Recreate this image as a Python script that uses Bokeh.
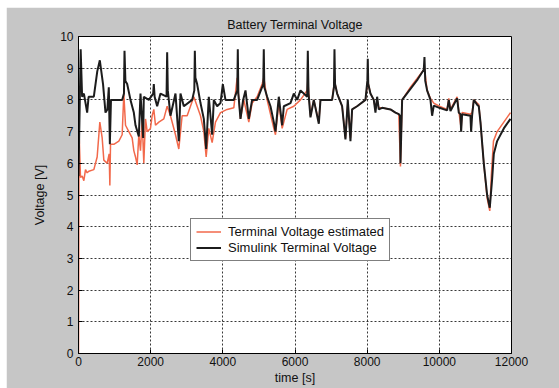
from bokeh.plotting import figure
from bokeh.models import ColumnDataSource, Legend, LegendItem, FixedTicker
from bokeh.embed import file_html
from bokeh.resources import INLINE

# Simulink terminal voltage (black)
sim_t = [0, 60, 100, 150, 240, 280, 425, 520, 591, 680, 748, 800, 840, 869, 900, 979,
         1210, 1260, 1275, 1300, 1349, 1441, 1533, 1580, 1672, 1718, 1792, 1810, 1949,
         2070, 2087, 2110, 2180, 2272, 2440, 2457, 2475, 2549, 2688, 2780, 2826, 2919,
         3150, 3210, 3224, 3240, 3288, 3381, 3473, 3538, 3611, 3704, 3750, 3842, 3935,
         4000, 4073, 4304, 4400, 4415, 4430, 4489, 4563, 4628, 4720, 4812, 4951, 5120,
         5135, 5150, 5228, 5320, 5413, 5459, 5551, 5644, 5690, 5875, 5967, 6060, 6152,
         6337, 6355, 6375, 6429, 6521, 6660, 6706, 7029, 7080, 7094, 7110, 7168, 7306,
         7398, 7463, 7537, 7583, 7722, 7953, 8005, 8017, 8030, 8091, 8183, 8230, 8276,
         8322, 8415, 8646, 8784, 8876, 8910, 8923, 8969, 9200, 9400, 9569, 9588, 9610,
         9661, 9754, 9800, 9846, 10000, 10216, 10262, 10308, 10493, 10539, 10585, 10604,
         10631, 10862, 10881, 10908, 10955, 11047, 11093, 11140, 11232, 11325, 11398,
         11463, 11510, 11602, 11787, 11972]
sim_v = [5.6, 9.6, 8.1, 8.2, 7.6, 8.1, 8.1, 8.9, 9.25, 8.5, 7.6, 7.7, 8.4, 6.6, 8.0, 8.0,
         8.0, 8.2, 9.55, 8.6, 8.5, 8.0, 7.6, 7.2, 6.85, 8.2, 6.8, 8.1, 8.0,
         8.2, 8.5, 8.1, 7.8, 8.2, 8.1, 9.5, 8.3, 7.5, 8.2, 6.7, 8.2, 7.8,
         8.0, 8.3, 9.55, 8.7, 8.5, 7.9, 7.4, 6.45, 8.1, 6.9, 8.0, 7.8, 7.9,
         8.5, 8.0, 8.0, 8.3, 9.6, 8.2, 7.4, 8.0, 8.3, 7.4, 8.0, 8.0, 8.5,
         9.6, 8.4, 8.1, 7.8, 7.3, 7.0, 8.1, 7.2, 7.8, 7.9, 8.2, 8.0, 8.3,
         8.1, 9.55, 8.2, 7.45, 8.0, 7.25, 8.0, 8.0, 8.4, 9.6, 8.5, 8.2, 7.8,
         6.75, 8.0, 6.7, 7.7, 7.8, 8.0, 8.6, 9.3, 8.5, 8.2, 8.0, 7.6, 8.1,
         7.7, 7.75, 7.7, 7.6, 7.55, 7.5, 6.0, 8.0, 8.35, 8.65, 8.95, 9.35, 8.6,
         8.3, 8.0, 7.5, 7.82, 7.75, 7.67, 8.0, 7.65, 8.05, 7.6, 7.55, 7.0,
         7.55, 7.5, 7.0, 7.5, 8.0, 7.85, 7.8, 7.3, 6.0, 5.0, 4.6,
         5.5, 6.3, 6.7, 7.1, 7.4]

# Terminal voltage estimated (orange-red)
est_t = [0, 15, 55, 102, 148, 194, 240, 286, 425, 517, 591, 656, 702, 794, 850, 869, 887,
         979, 1118, 1210, 1256, 1303, 1395, 1487, 1533, 1580, 1626, 1672, 1718, 1764, 1810,
         1857, 1903, 1995, 2041, 2087, 2133, 2226, 2364, 2457, 2549, 2688, 2780, 2872,
         3011, 3196, 3288, 3381, 3473, 3538, 3611, 3704, 3796, 3935, 4119, 4304, 4396,
         4489, 4581, 4720, 4812, 4951, 5089, 5135, 5228, 5413, 5459, 5551, 5644, 5782,
         5967, 6152, 6337, 6355, 6429, 6521, 6660, 6706, 7029, 7094, 7168, 7306, 7398,
         7463, 7537, 7583, 7722, 7953, 8017, 8091, 8183, 8230, 8276, 8322, 8415, 8646,
         8784, 8876, 8923, 8969, 9200, 9400, 9569, 9588, 9661, 9754, 9846, 10000, 10216,
         10262, 10308, 10493, 10539, 10604, 10631, 10862, 10908, 10955, 11047, 11093,
         11140, 11232, 11325, 11398, 11440, 11500, 11602, 11787, 11972]
est_v = [0.0, 7.0, 5.55, 5.6, 5.45, 5.8, 5.7, 5.75, 5.8, 6.2, 7.3, 6.8, 6.1, 6.0, 6.3, 5.3, 6.6,
         6.6, 6.7, 6.9, 8.2, 7.2, 7.0, 6.8, 6.4, 6.2, 5.95, 6.9, 6.4, 7.4, 6.0,
         7.4, 7.0, 7.1, 7.5, 7.7, 7.2, 7.3, 7.4, 7.8, 7.5, 6.9, 6.45, 7.5,
         7.5, 8.1, 7.8, 7.5, 7.0, 6.2, 7.1, 6.65, 7.3, 7.6, 7.7, 7.75, 8.7,
         7.4, 8.0, 7.3, 7.9, 8.1, 8.5, 8.7, 8.0, 7.1, 6.9, 7.9, 7.1, 7.7,
         7.8, 8.0, 8.3, 8.6, 7.5, 8.0, 7.3, 8.0, 8.0, 8.6, 8.2, 7.8, 6.8,
         7.9, 6.8, 7.7, 7.8, 8.0, 8.6, 8.2, 8.0, 7.7, 8.0, 7.75, 7.75, 7.7,
         7.6, 7.55, 5.9, 8.0, 8.4, 8.7, 8.95, 9.0, 8.3, 8.05, 7.9, 7.8, 7.7,
         8.05, 7.7, 8.1, 7.65, 7.1, 7.6, 7.55, 7.6, 8.0, 7.9, 7.85,
         7.3, 6.0, 4.9, 4.5, 5.6, 6.7, 7.0, 7.3, 7.6]

x_ticks = [0, 2000, 4000, 6000, 8000, 10000, 12000]
y_ticks = [0, 1, 2, 3, 4, 5, 6, 7, 8, 9, 10]

FONT = "Liberation Sans"

p = figure(width=553, height=381, output_backend="svg", toolbar_location=None,
           x_range=(0, 12000), y_range=(0, 10),
           min_border_left=72, min_border_right=48, min_border_top=29, min_border_bottom=35)
p.margin = (7, 0, 0, 6)
p.background_fill_color = "white"
p.border_fill_color = "#c6c6c6"
p.outline_line_color = "black"
p.outline_line_width = 1

p.title.text = "Battery Terminal Voltage"
p.title.align = "center"
p.title.text_font = FONT
p.title.text_font_size = "12.5px"
p.title.text_font_style = "normal"
p.title.text_color = "#111111"

est_src = ColumnDataSource(dict(t=est_t, v=est_v))
sim_src = ColumnDataSource(dict(t=sim_t, v=sim_v))
r_est = p.line("t", "v", source=est_src, line_color="#f2694b", line_width=1.5)
r_sim = p.line("t", "v", source=sim_src, line_color="#1c1c1c", line_width=2)

p.xaxis.ticker = FixedTicker(ticks=x_ticks)
p.yaxis.ticker = FixedTicker(ticks=y_ticks)
for ax in (p.xaxis[0], p.yaxis[0]):
    ax.major_label_text_font = FONT
    ax.major_label_text_font_size = "12px"
    ax.major_label_text_color = "#111111"
    ax.axis_label_text_font = FONT
    ax.axis_label_text_font_size = "12.5px"
    ax.axis_label_text_font_style = "normal"
    ax.axis_label_text_color = "#111111"
    ax.major_tick_in = 4
    ax.major_tick_out = 0
    ax.minor_tick_line_color = None
    ax.axis_line_color = "black"
    ax.major_tick_line_color = "black"
p.xaxis.axis_label = "time [s]"
p.yaxis.axis_label = "Voltage [V]"
p.xaxis.major_label_standoff = 3
p.xaxis.axis_label_standoff = 2
p.yaxis.major_label_standoff = 5
p.yaxis.axis_label_standoff = 10

for g in (p.xgrid[0], p.ygrid[0]):
    g.ticker = FixedTicker(ticks=x_ticks if g is p.xgrid[0] else y_ticks)
    g.grid_line_color = "#222222"
    g.grid_line_dash = "2 2"
    g.grid_line_width = 1
    g.grid_line_alpha = 0.9

legend = Legend(items=[LegendItem(label="Terminal Voltage estimated", renderers=[r_est]),
                       LegendItem(label="Simulink Terminal Voltage", renderers=[r_sim])],
                location=(112, 92))
legend.label_text_font = FONT
legend.label_text_font_size = "13px"
legend.label_text_color = "#111111"
legend.glyph_width = 25
legend.glyph_height = 13
legend.label_height = 13
legend.label_standoff = 7
legend.padding = 5
legend.spacing = 1
legend.margin = 0
legend.border_line_color = "black"
legend.border_line_width = 1
legend.background_fill_color = "white"
legend.background_fill_alpha = 1.0
p.add_layout(legend, "center")

open("out.html", "w").write(file_html(p, INLINE))
